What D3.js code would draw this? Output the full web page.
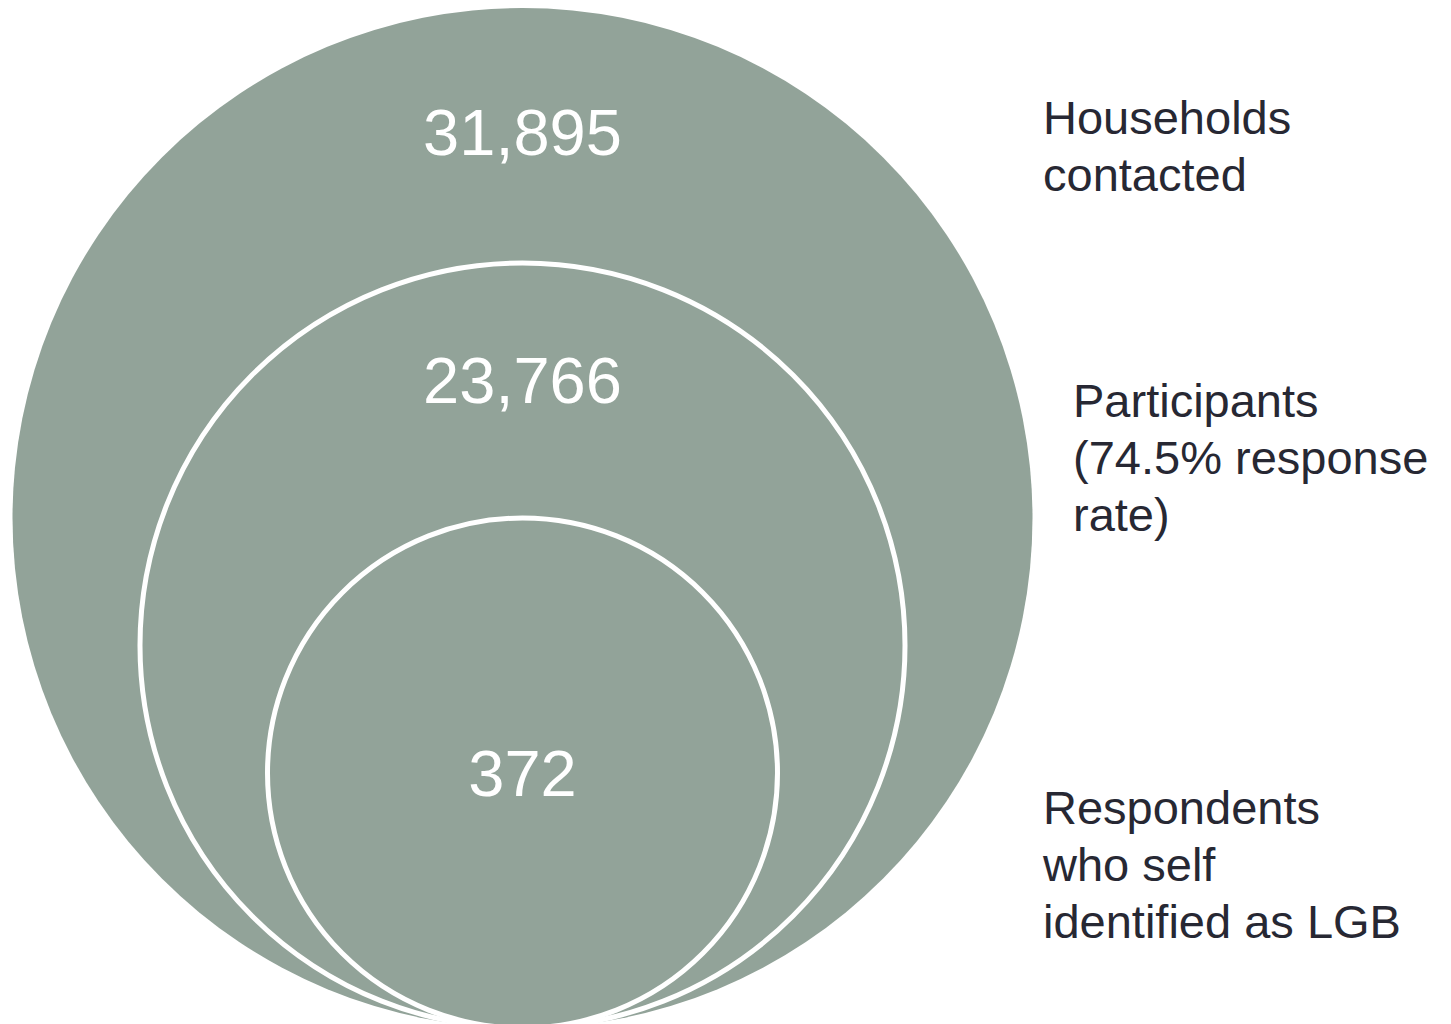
<!DOCTYPE html>
<html>
<head>
<meta charset="utf-8">
<script src="https://cdn.jsdelivr.net/npm/d3@7"></script>
<style>
  html, body { margin: 0; padding: 0; background: #ffffff; }
  svg { display: block; }
</style>
</head>
<body>
<script>
// ---- data ----
const levels = [0, 1, 2];
const counts = [31895, 23766, 372];
const labelLines = [
  ["Households", "contacted"],
  ["Participants", "(74.5% response", "rate)"],
  ["Respondents", "who self", "identified as LGB"]
];

// ---- layout ----
const W = 1451, H = 1024;
const cx = 522.5, bottomY = 1028;
const numberBaselines = [155, 403, 796];
const labelX = [1043, 1073, 1043];
const labelTop = [134, 417, 824];
const lineGap = 57;

const svg = d3.select("body").append("svg")
  .attr("width", W).attr("height", H);

const rScale = d3.scaleLinear().domain([0, 2]).range([510, 255]);
const fmt = d3.format(",");

const g = svg.append("g");

g.selectAll("circle")
  .data(levels)
  .join("circle")
  .attr("cx", cx)
  .attr("cy", d => bottomY - rScale(d))
  .attr("r", d => rScale(d) - (d === 0 ? 0 : 0))
  .attr("fill", "#92a399")
  .attr("stroke", d => d === 0 ? "none" : "#ffffff")
  .attr("stroke-width", 5);

g.selectAll("text.num")
  .data(levels)
  .join("text")
  .attr("class", "num")
  .attr("x", cx)
  .attr("y", d => numberBaselines[d])
  .attr("text-anchor", "middle")
  .attr("fill", "#ffffff")
  .style("font-family", "'Liberation Sans', Arial, sans-serif")
  .style("font-size", "65px")
  .text(d => fmt(counts[d]));

const lab = svg.selectAll("text.lab")
  .data(levels)
  .join("text")
  .attr("class", "lab")
  .attr("x", d => labelX[d])
  .attr("y", d => labelTop[d])
  .attr("fill", "#272833")
  .style("font-family", "'Liberation Sans', Arial, sans-serif")
  .style("font-size", "47px");

lab.selectAll("tspan")
  .data(d => labelLines[d].map((t, i) => ({t, i, d})))
  .join("tspan")
  .attr("x", o => labelX[o.d])
  .attr("y", o => labelTop[o.d] + o.i * lineGap)
  .text(o => o.t);
</script>
</body>
</html>
